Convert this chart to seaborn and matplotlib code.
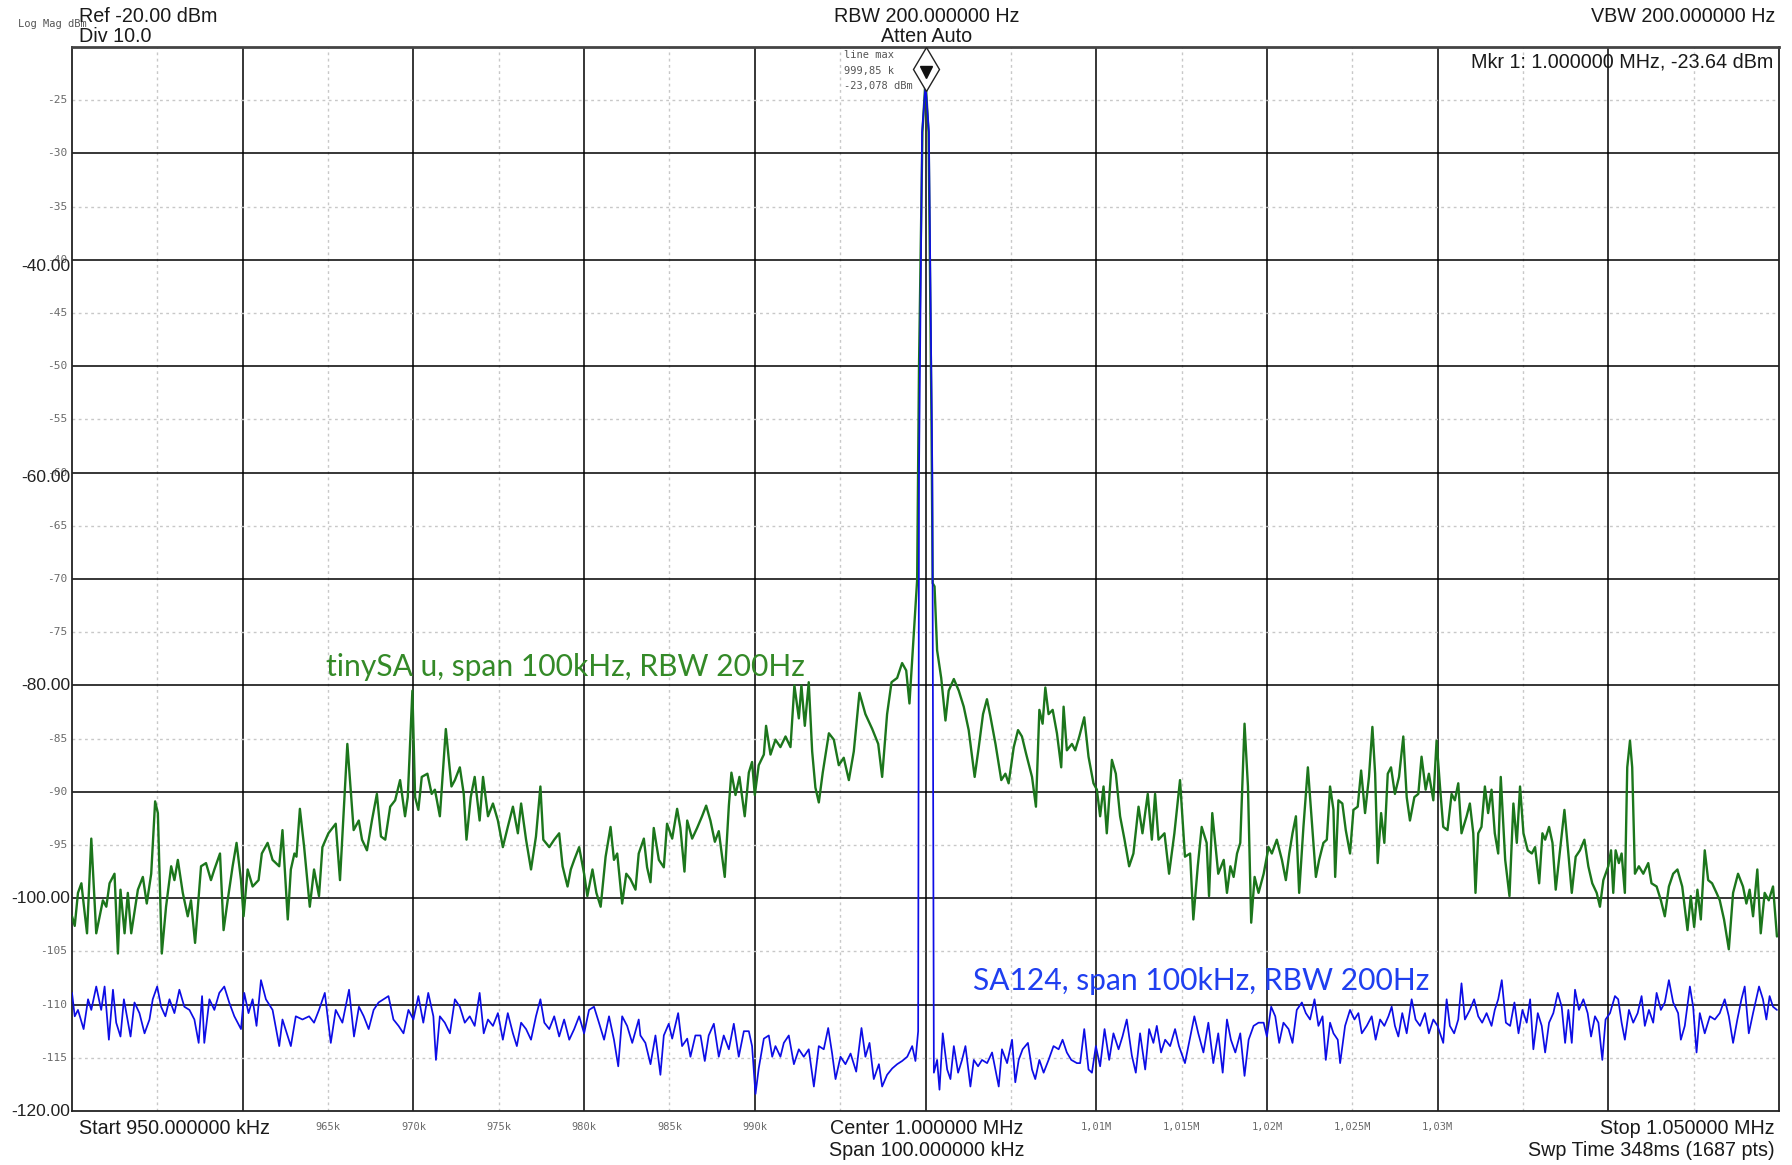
import matplotlib
matplotlib.use("Agg")
import matplotlib.pyplot as plt
from matplotlib.transforms import offset_copy, blended_transform_factory
import seaborn as sns

# ---------------- data (kHz, dBm) ----------------
green_left = [
    (950.00, -101.7), (950.16, -102.6), (950.35, -99.5), (950.55, -98.6), (950.68, -100.5), (950.88, -103.3),
    (951.13, -94.4), (951.42, -103.3), (951.81, -100.2), (952.01, -100.8), (952.20, -98.6), (952.49, -97.7),
    (952.69, -105.2), (952.84, -99.2), (953.08, -103.3), (953.27, -99.5), (953.47, -103.3), (953.86, -99.2),
    (954.15, -98.0), (954.38, -100.5), (954.64, -97.7), (954.87, -90.9), (955.03, -92.0), (955.26, -105.2),
    (955.51, -100.8), (955.81, -97.0), (956.00, -98.3), (956.20, -96.4), (956.49, -99.5), (956.78, -101.7),
    (956.97, -100.2), (957.21, -104.2), (957.56, -97.0), (957.85, -96.7), (958.14, -98.3), (958.34, -97.3),
    (958.67, -95.8), (958.88, -103.0), (959.12, -100.2), (959.41, -97.0), (959.64, -94.8), (959.90, -98.3),
    (960.05, -101.7), (960.29, -97.3), (960.58, -98.9), (960.93, -98.3), (961.12, -95.8), (961.46, -94.8),
    (961.75, -96.4), (962.14, -97.0), (962.33, -93.6), (962.64, -102.0), (962.82, -97.3), (963.03, -95.8),
    (963.15, -96.1), (963.35, -91.6), (963.60, -95.2), (963.93, -100.8), (964.18, -97.3), (964.47, -99.8),
    (964.67, -95.2), (965.02, -93.9), (965.45, -93.0), (965.70, -98.3), (966.13, -85.5),
    (966.50, -93.6), (966.80, -92.7), (966.99, -94.5), (967.28, -95.5), (967.57, -92.7), (967.86, -90.2),
    (968.10, -94.2), (968.35, -94.5), (968.64, -91.4), (968.93, -90.8), (969.22, -88.9), (969.51, -92.3),
    (969.67, -90.5), (969.94, -80.5), (970.10, -90.5), (970.29, -91.7), (970.49, -88.6), (970.82, -88.3),
    (971.07, -90.2), (971.26, -89.8), (971.55, -92.3), (971.90, -84.1), (972.23, -89.5), (972.43, -88.9),
    (972.72, -87.7), (972.95, -90.2), (973.11, -94.5), (973.36, -90.5), (973.59, -88.6), (973.88, -92.7),
    (974.08, -88.6), (974.37, -92.3), (974.66, -91.1), (974.95, -92.7), (975.24, -95.2), (975.53, -93.3),
    (975.83, -91.4), (976.12, -93.9), (976.31, -91.1), (976.60, -94.5), (976.89, -97.3), (977.18, -94.2),
    (977.44, -89.5), (977.61, -94.5), (977.96, -95.2), (978.25, -94.5), (978.54, -93.9), (978.74, -97.0),
    (979.03, -98.9), (979.22, -97.3), (979.42, -96.4), (979.71, -95.2), (980.00, -97.7), (980.19, -99.8),
    (980.49, -97.3), (980.72, -99.5), (980.97, -100.8), (981.26, -96.1), (981.55, -93.3), (981.75, -96.4),
    (981.94, -95.8), (982.23, -100.5), (982.47, -97.7),
    (982.71, -98.2), (983.01, -99.2), (983.20, -95.8), (983.50, -94.4), (983.69, -97.1), (983.89, -98.5),
    (984.08, -93.4), (984.38, -96.4), (984.67, -97.1), (984.86, -93.0), (985.16, -94.4), (985.45, -91.6),
    (985.64, -93.4), (985.88, -97.5), (986.04, -92.7), (986.33, -94.4), (986.62, -93.4), (986.91, -92.3),
    (987.15, -91.3), (987.40, -92.7), (987.66, -94.7), (987.89, -93.7), (988.24, -98.0), (988.48, -91.3),
    (988.63, -88.2), (988.87, -90.3), (989.10, -88.6), (989.41, -92.3), (989.65, -88.2), (989.84, -87.2),
    (990.00, -90.3), (990.23, -87.5), (990.53, -86.5), (990.66, -83.8), (990.92, -86.5), (991.21, -85.1),
    (991.50, -85.8), (991.80, -84.8), (992.09, -85.8), (992.32, -80.0), (992.58, -83.1), (992.73, -80.0),
    (992.93, -83.8), (993.16, -79.7), (993.36, -86.2), (993.55, -89.6), (993.75, -91.0), (993.98, -88.2),
    (994.34, -84.5), (994.63, -85.1), (994.92, -87.5), (995.21, -86.8), (995.51, -88.9), (995.80, -86.2),
    (996.13, -80.7), (996.48, -82.7), (996.88, -84.1), (997.23, -85.5), (997.46, -88.6), (997.75, -82.7),
    (998.01, -79.7), (998.34, -79.3), (998.63, -77.9), (998.87, -78.6), (999.06, -81.7), (999.22, -77.6),
    (999.38, -73.5), (999.51, -70.1),
]
green_peak = [(999.62, -50.0), (999.82, -28.0), (1000.00, -23.1), (1000.18, -28.0), (1000.35, -55.0), (1000.42, -70.4)]
green_right = [
    (1000.53, -70.7), (1000.68, -76.7), (1000.80, -78.0), (1000.92, -79.3), (1001.17, -83.3), (1001.36, -80.5),
    (1001.66, -79.4), (1001.95, -80.5), (1002.24, -82.0), (1002.53, -84.2), (1002.88, -88.6), (1003.12, -85.8),
    (1003.37, -82.7), (1003.60, -81.3), (1003.80, -82.9), (1004.10, -85.5), (1004.44, -88.9), (1004.68, -88.3),
    (1004.87, -89.2), (1005.17, -85.8), (1005.42, -84.2), (1005.65, -84.8), (1005.89, -86.4), (1006.24, -88.6),
    (1006.47, -91.4), (1006.67, -82.3), (1006.86, -83.6), (1007.02, -80.2), (1007.21, -82.7), (1007.45, -82.3),
    (1007.70, -84.5), (1007.95, -87.7), (1008.09, -82.0), (1008.28, -86.1), (1008.58, -85.5), (1008.77, -86.1),
    (1009.01, -84.8), (1009.30, -83.0), (1009.55, -86.7), (1009.84, -89.2), (1010.04, -89.8), (1010.23, -92.3),
    (1010.43, -89.5), (1010.62, -93.9), (1010.92, -87.0), (1011.15, -88.3), (1011.40, -92.3), (1011.66, -94.5),
    (1011.93, -97.0), (1012.18, -95.8), (1012.48, -91.4), (1012.71, -93.9), (1013.02, -90.2), (1013.26, -94.5),
    (1013.45, -90.2), (1013.65, -94.5), (1014.00, -93.9), (1014.27, -97.7), (1014.58, -93.9), (1014.91, -88.9),
    (1015.20, -96.1), (1015.50, -95.8), (1015.69, -102.0), (1015.95, -97.0), (1016.18, -93.3), (1016.47, -94.8),
    (1016.61, -99.8), (1016.80, -92.0), (1017.15, -97.7),
    (1017.47, -96.4), (1017.66, -99.5), (1017.86, -97.0), (1018.05, -98.0), (1018.25, -95.8), (1018.44, -94.8),
    (1018.69, -83.6), (1018.89, -89.5), (1019.08, -102.3), (1019.28, -98.0), (1019.51, -99.5), (1019.81, -97.7),
    (1020.10, -95.2), (1020.29, -95.8), (1020.58, -94.5), (1020.88, -96.4), (1021.11, -98.3), (1021.31, -95.8),
    (1021.50, -93.9), (1021.70, -92.3), (1021.89, -99.5), (1022.14, -93.3), (1022.40, -87.7), (1022.63, -92.7),
    (1022.87, -98.0), (1023.06, -96.4), (1023.31, -94.8), (1023.51, -94.5), (1023.70, -89.5), (1023.90, -91.7),
    (1024.00, -98.0), (1024.19, -90.8), (1024.42, -91.1), (1024.62, -93.6), (1024.87, -95.8), (1025.07, -91.7),
    (1025.32, -91.4), (1025.52, -88.0), (1025.75, -92.0), (1025.98, -88.6), (1026.18, -83.9), (1026.34, -88.3),
    (1026.49, -96.7), (1026.69, -92.0), (1026.88, -94.8), (1027.08, -88.3), (1027.27, -87.7), (1027.50, -90.2),
    (1027.74, -88.6), (1027.99, -84.8), (1028.19, -90.5), (1028.38, -92.7), (1028.64, -90.5), (1028.87, -90.2),
    (1029.06, -86.7), (1029.30, -89.8), (1029.49, -88.3), (1029.75, -90.8), (1029.94, -85.2), (1030.14, -89.5),
    (1030.33, -93.3), (1030.58, -93.6), (1030.82, -90.2), (1031.01, -90.8), (1031.21, -89.2), (1031.40, -93.9),
    (1031.70, -92.3), (1031.89, -91.1), (1032.09, -93.9), (1032.22, -99.5), (1032.38, -93.9), (1032.57, -93.3),
    (1032.77, -89.5), (1032.96, -92.0), (1033.16, -89.8), (1033.35, -93.9), (1033.55, -95.8),
    (1033.70, -88.6), (1033.96, -96.4), (1034.21, -99.8), (1034.44, -91.1), (1034.64, -94.8), (1034.83, -89.5),
    (1035.03, -93.9), (1035.28, -95.5), (1035.52, -95.8), (1035.71, -95.2), (1035.95, -98.6), (1036.14, -93.9),
    (1036.30, -94.5), (1036.53, -93.3), (1036.73, -94.8), (1036.92, -99.2), (1037.17, -95.5), (1037.43, -91.7),
    (1037.66, -95.8), (1037.86, -99.5), (1038.09, -96.1), (1038.34, -95.5), (1038.60, -94.5), (1038.83, -97.0),
    (1039.06, -98.6), (1039.32, -99.5), (1039.51, -100.8), (1039.71, -98.3), (1040.00, -97.0), (1040.16, -95.5),
    (1040.29, -99.5), (1040.43, -95.5), (1040.62, -96.7), (1040.78, -95.8), (1040.97, -99.5), (1041.11, -87.7),
    (1041.27, -85.2), (1041.40, -87.7), (1041.56, -97.7), (1041.79, -97.0), (1042.05, -97.7), (1042.34, -96.7),
    (1042.53, -98.6), (1042.83, -98.9), (1043.08, -100.2), (1043.31, -101.7), (1043.55, -98.9), (1043.80, -97.7),
    (1044.05, -97.3), (1044.33, -98.9), (1044.64, -103.0), (1044.83, -99.8), (1045.03, -102.7), (1045.22, -99.2),
    (1045.42, -102.0), (1045.65, -95.5), (1045.85, -98.3), (1046.08, -98.6), (1046.34, -99.5), (1046.53, -100.2),
    (1046.78, -102.0), (1047.06, -104.8), (1047.31, -99.5), (1047.60, -97.7), (1047.89, -98.9), (1048.09, -100.5),
    (1048.28, -99.2), (1048.48, -101.7), (1048.73, -97.3), (1048.93, -103.3), (1049.16, -99.5), (1049.40, -100.2),
    (1049.65, -98.9), (1049.88, -103.6),
]

blue_left = [
    (950.00, -108.9), (950.16, -111.1), (950.35, -110.5), (950.68, -112.3), (950.94, -109.5), (951.13, -110.5),
    (951.42, -108.3), (951.71, -110.5), (951.91, -108.3), (952.16, -113.3), (952.40, -108.6), (952.59, -111.7),
    (952.84, -113.0), (953.04, -109.5), (953.43, -113.0), (953.66, -109.8), (953.95, -110.8), (954.25, -112.7),
    (954.54, -111.4), (954.73, -109.5), (954.99, -108.3), (955.22, -110.2), (955.47, -111.1), (955.71, -109.5),
    (956.00, -110.8), (956.29, -108.6), (956.58, -110.2), (956.88, -110.5), (957.17, -111.4), (957.42, -113.6),
    (957.62, -109.2), (957.75, -113.6), (958.05, -109.5), (958.34, -110.5), (958.63, -108.9), (958.92, -108.3),
    (959.21, -109.8), (959.51, -111.1), (959.90, -112.3), (960.09, -108.9), (960.34, -110.8), (960.58, -109.5),
    (960.81, -112.0), (961.07, -107.7), (961.36, -109.5), (961.75, -110.5), (962.14, -113.9), (962.33, -111.4),
    (962.82, -113.9), (963.11, -111.1), (963.50, -111.4), (963.89, -111.1), (964.18, -111.7), (964.47, -110.5),
    (964.81, -108.9), (965.16, -113.6), (965.45, -110.5), (965.84, -111.7), (966.23, -108.6), (966.52, -113.0),
    (966.81, -110.2),
    (967.09, -111.1), (967.38, -112.3), (967.67, -110.5), (967.96, -109.8), (968.25, -109.5), (968.54, -109.2),
    (968.83, -111.4), (969.13, -112.0), (969.42, -112.7), (969.71, -110.5), (970.00, -111.4), (970.29, -109.2),
    (970.58, -111.7), (970.87, -108.9), (971.17, -111.1), (971.32, -115.2), (971.55, -111.1), (971.84, -111.7),
    (972.14, -112.7), (972.43, -109.5), (972.72, -110.2), (973.01, -111.7), (973.30, -111.1), (973.59, -112.0),
    (973.88, -108.9), (974.12, -112.7), (974.37, -111.4), (974.66, -112.0), (974.95, -110.8), (975.24, -113.3),
    (975.53, -110.8), (975.83, -112.7), (976.06, -113.9), (976.31, -111.7), (976.60, -112.3), (976.89, -113.3),
    (977.18, -111.1), (977.44, -109.5), (977.67, -111.7), (977.96, -112.3), (978.25, -111.1), (978.54, -113.0),
    (978.83, -111.4), (979.13, -113.3), (979.42, -112.3), (979.71, -111.1), (980.00, -112.7), (980.29, -110.5),
    (980.58, -110.2), (980.87, -111.7), (981.17, -113.3), (981.46, -111.1), (981.75, -113.3), (982.00, -115.8),
    (982.23, -111.1), (982.52, -112.0), (982.82, -113.6), (983.20, -111.4),
    (983.30, -112.9), (983.59, -113.6), (983.89, -115.6), (984.18, -112.9), (984.47, -116.6), (984.67, -112.9),
    (984.96, -111.8), (985.16, -113.2), (985.51, -110.8), (985.74, -113.9), (986.04, -113.2), (986.23, -114.9),
    (986.52, -112.9), (986.82, -112.9), (987.07, -115.3), (987.30, -112.9), (987.60, -111.8), (987.89, -114.9),
    (988.18, -112.9), (988.48, -114.2), (988.77, -111.8), (989.06, -114.9), (989.36, -112.5), (989.65, -112.5),
    (989.84, -113.9), (990.04, -118.4), (990.23, -116.0), (990.53, -113.2), (990.82, -112.9), (991.02, -114.9),
    (991.21, -113.9), (991.50, -114.9), (991.70, -113.6), (991.99, -112.9), (992.29, -115.6), (992.58, -114.2),
    (992.87, -114.9), (993.16, -114.2), (993.46, -117.7), (993.75, -113.9), (994.04, -114.2), (994.30, -112.2),
    (994.53, -114.6), (994.73, -117.0), (995.02, -114.9), (995.31, -115.6), (995.61, -114.6), (995.94, -116.3),
    (996.25, -112.2), (996.48, -114.9), (996.72, -113.6), (996.97, -117.0), (997.27, -115.6), (997.46, -117.7),
    (997.75, -116.6), (998.05, -116.0), (998.34, -115.6), (998.63, -115.3), (998.93, -114.9), (999.22, -113.9),
    (999.41, -115.3), (999.57, -112.5),
]
blue_peak = [(999.62, -60.0), (999.80, -28.0), (1000.00, -23.6), (1000.20, -28.0), (1000.40, -60.0)]
blue_right = [
    (1000.49, -116.4), (1000.68, -115.2), (1000.82, -118.0), (1001.01, -112.7), (1001.27, -116.1), (1001.46, -117.0),
    (1001.66, -113.9), (1001.91, -116.4), (1002.14, -115.2), (1002.34, -113.9), (1002.63, -117.7), (1002.83, -115.2),
    (1003.08, -115.8), (1003.31, -115.2), (1003.61, -115.5), (1003.90, -114.5), (1004.29, -117.7), (1004.48, -114.2),
    (1004.78, -115.5), (1005.07, -113.3), (1005.26, -117.3), (1005.46, -115.2), (1005.69, -114.2), (1006.00, -113.6),
    (1006.24, -116.1), (1006.43, -117.0), (1006.67, -115.2), (1006.92, -116.4), (1007.21, -115.2), (1007.50, -113.9),
    (1007.80, -114.2), (1008.03, -113.3), (1008.28, -114.5), (1008.54, -115.2), (1008.87, -115.5), (1009.06, -115.5),
    (1009.30, -112.3), (1009.55, -116.1), (1009.75, -116.4), (1009.98, -113.9), (1010.23, -115.8), (1010.49, -112.3),
    (1010.76, -115.2), (1011.01, -112.7), (1011.31, -114.2), (1011.54, -113.0), (1011.79, -111.4), (1012.09, -114.8),
    (1012.32, -116.4), (1012.57, -112.7), (1012.87, -116.1), (1013.10, -112.3), (1013.35, -113.6), (1013.55, -112.0),
    (1013.80, -114.5), (1014.04, -113.3), (1014.33, -113.9), (1014.62, -112.3), (1014.85, -113.9), (1015.20, -115.5),
    (1015.44, -113.6), (1015.75, -111.1), (1015.98, -112.7), (1016.28, -114.5), (1016.57, -111.7), (1016.86, -115.5),
    (1017.15, -112.7),
    (1017.41, -116.4), (1017.66, -111.4), (1017.89, -113.3), (1018.15, -114.5), (1018.44, -112.7), (1018.69, -116.7),
    (1018.93, -113.3), (1019.22, -112.0), (1019.51, -111.7), (1019.81, -111.7), (1020.00, -113.0), (1020.25, -110.2),
    (1020.49, -111.1), (1020.72, -113.6), (1020.97, -111.7), (1021.27, -112.3), (1021.50, -113.6), (1021.75, -110.5),
    (1022.05, -109.8), (1022.28, -110.8), (1022.53, -111.4), (1022.79, -109.5), (1023.02, -112.0), (1023.26, -111.1),
    (1023.45, -115.2), (1023.70, -111.7), (1023.90, -112.7), (1024.15, -113.3), (1024.29, -115.5), (1024.58, -112.0),
    (1024.87, -110.5), (1025.13, -111.4), (1025.36, -110.8), (1025.56, -112.7), (1025.85, -112.0), (1026.14, -111.1),
    (1026.37, -113.3), (1026.63, -111.4), (1026.88, -112.0), (1027.12, -111.1), (1027.31, -110.2), (1027.50, -112.0),
    (1027.70, -113.0), (1027.93, -110.8), (1028.19, -112.7), (1028.48, -109.5), (1028.71, -111.4), (1028.97, -112.0),
    (1029.26, -110.8), (1029.49, -112.7), (1029.75, -111.4), (1030.00, -112.0), (1030.33, -113.6), (1030.53, -109.5),
    (1030.72, -112.0), (1030.97, -112.7), (1031.21, -111.4), (1031.40, -108.0), (1031.60, -111.4), (1031.89, -110.5),
    (1032.14, -109.5), (1032.38, -111.1), (1032.61, -111.7), (1032.87, -110.8), (1033.16, -112.0), (1033.35, -110.5),
    (1033.55, -109.5),
    (1033.76, -107.7), (1034.00, -111.7), (1034.25, -112.0), (1034.50, -109.8), (1034.74, -112.7), (1034.97, -110.5),
    (1035.22, -111.7), (1035.42, -109.5), (1035.61, -114.2), (1035.87, -110.8), (1036.10, -112.0), (1036.30, -114.5),
    (1036.53, -111.7), (1036.78, -110.8), (1037.04, -108.9), (1037.27, -110.2), (1037.47, -113.6), (1037.66, -110.5),
    (1037.86, -113.6), (1038.05, -108.6), (1038.28, -110.5), (1038.54, -109.5), (1038.79, -110.8), (1038.99, -113.0),
    (1039.22, -111.1), (1039.42, -111.7), (1039.65, -115.2), (1039.84, -111.4), (1040.10, -110.8), (1040.39, -109.2),
    (1040.58, -109.5), (1040.78, -111.7), (1040.97, -113.3), (1041.21, -110.5), (1041.46, -111.7), (1041.72, -110.8),
    (1041.95, -109.2), (1042.14, -112.0), (1042.38, -110.5), (1042.63, -111.7), (1042.83, -108.9), (1043.08, -110.5),
    (1043.31, -109.8), (1043.55, -107.7), (1043.80, -109.8), (1044.09, -110.8), (1044.25, -113.3), (1044.48, -112.0),
    (1044.78, -108.3), (1044.97, -110.2), (1045.17, -114.5), (1045.36, -110.8), (1045.65, -112.7), (1045.95, -111.1),
    (1046.24, -111.4), (1046.53, -110.8), (1046.82, -109.5), (1047.06, -111.1), (1047.31, -113.6), (1047.56, -111.4),
    (1047.80, -109.5), (1047.99, -108.3), (1048.23, -112.7), (1048.48, -110.8), (1048.83, -108.3), (1049.06, -109.5),
    (1049.26, -111.4), (1049.45, -109.2), (1049.65, -110.2), (1049.88, -110.5),
]

green_freq, green_db = map(list, zip(*(green_left + green_peak + green_right)))
blue_freq, blue_db = map(list, zip(*(blue_left + blue_peak + blue_right)))

marker_freq = 1000.0
marker_db = -23.08

x_major = [960, 970, 980, 990, 1000, 1010, 1020, 1030, 1040]
x_minor = [955, 965, 975, 985, 995, 1005, 1015, 1025, 1035, 1045]
x_tick_pos = [965, 970, 975, 980, 985, 990, 1010, 1015, 1020, 1025, 1030]
x_tick_lab = ["965k", "970k", "975k", "980k", "985k", "990k", "1,01M", "1,015M", "1,02M", "1,025M", "1,03M"]
y_major = [-30, -40, -50, -60, -70, -80, -90, -100, -110]
y_minor = [-25, -35, -45, -55, -65, -75, -85, -95, -105, -115]
y_small_lab = [-25, -30, -35, -40, -45, -50, -55, -60, -65, -70, -75, -85, -90, -95, -105, -110, -115]
y_big_lab = [-40, -60, -80, -100, -120]
y_big_shift_px = [-7, -5, 0, 0, 0]   # vertical nudge of the big labels (pixels)

# ---------------- style ----------------
sns.set_style("white")
plt.rcParams["font.family"] = ["Liberation Sans", "DejaVu Sans"]

W, H = 1792, 1165
fig = plt.figure(figsize=(W / 100, H / 100), dpi=100)
fig.patch.set_facecolor("white")
ax = fig.add_axes([72 / W, 1 - 1111 / H, (1779 - 72) / W, (1111 - 47) / H])

GREEN = "#1c761c"
BLUE = "#0d0de6"

sns.lineplot(x=green_freq, y=green_db, ax=ax, color=GREEN, lw=1.7, estimator=None, sort=False, zorder=3)
sns.lineplot(x=blue_freq, y=blue_db, ax=ax, color=BLUE, lw=1.25, estimator=None, sort=False, zorder=4)

ax.set_xlim(950, 1050)
ax.set_ylim(-120, -20)
ax.set_xticks(x_major)
ax.set_xticks(x_minor, minor=True)
ax.set_yticks(y_major)
ax.set_yticks(y_minor, minor=True)
ax.grid(which="major", color="black", lw=1.1, ls="-", zorder=1)
ax.grid(which="minor", color="#c8c8c8", lw=1.0, ls=(0, (2, 2.5)), zorder=1)
ax.set_axisbelow(True)
ax.tick_params(which="both", length=0, labelbottom=False, labelleft=False)
ax.set_xlabel("")
ax.set_ylabel("")
for s in ax.spines.values():
    s.set_color("#222222")
    s.set_linewidth(1.3)
ax.spines["top"].set_linewidth(2.0)
ax.spines["top"].set_color("#444444")

# tick labels
mono = ["DejaVu Sans Mono"]
tx = blended_transform_factory(ax.transData, ax.transAxes)
for p, lab in zip(x_tick_pos, x_tick_lab):
    ax.text(p, -0.015, lab, transform=tx, ha="center", va="center", fontsize=7.5,
            family=mono, color="#6a6a6a")
ty = blended_transform_factory(ax.transAxes, ax.transData)
for v in y_small_lab:
    ax.text(-0.003, v, str(v), transform=ty, ha="right", va="center", fontsize=8,
            family=mono, color="#6a6a6a")
for v, dy in zip(y_big_lab, y_big_shift_px):
    t_big = offset_copy(ty, fig=fig, x=0, y=dy, units="dots")
    ax.text(-0.001, v, f"{v:.2f}", transform=t_big, ha="right", va="center", fontsize=12.5,
            color="#222222")

# marker
mk_off = offset_copy(ax.transData, fig=fig, x=0, y=11, units="dots")
ax.plot([marker_freq], [marker_db], marker="d", ms=22, mfc="white", mec="#222222", mew=1.0,
        transform=mk_off, zorder=6, ls="none")
mk_off2 = offset_copy(ax.transData, fig=fig, x=0, y=8, units="dots")
ax.plot([marker_freq], [marker_db], marker="v", ms=8, mfc="#111111", mec="#111111",
        transform=mk_off2, zorder=7, ls="none")

# trace annotations
ax.text(964.9, -78.3, "tinySA u, span 100kHz, RBW 200Hz", color="#348a28", fontsize=21.6,
        family=["Lato", "DejaVu Sans"], ha="left", va="center", zorder=8)
ax.text(1002.8, -107.8, "SA124, span 100kHz, RBW 200Hz", color="#1f3ff0", fontsize=21.6,
        family=["Lato", "DejaVu Sans"], ha="left", va="center", zorder=8)


def ftext(x, y, s, **kw):
    fig.text(x / W, 1 - y / H, s, **kw)


hdr = dict(fontsize=14.2, color="#1a1a1a")
ftext(18, 24, "Log Mag dBm", fontsize=7.5, family=mono, color="#555555", ha="left", va="center")
ftext(79, 17, "Ref -20.00 dBm", ha="left", va="center", **hdr)
ftext(79, 37, "Div 10.0", ha="left", va="center", **hdr)
ftext(927, 17, "RBW 200.000000 Hz", ha="center", va="center", **hdr)
ftext(927, 37, "Atten Auto", ha="center", va="center", **hdr)
ftext(1775, 17, "VBW 200.000000 Hz", ha="right", va="center", **hdr)
ftext(1773, 62, "Mkr 1: 1.000000 MHz, -23.64 dBm", ha="right", va="center", **hdr)
ftext(79, 1128, "Start 950.000000 kHz", ha="left", va="center", **hdr)
ftext(927, 1128, "Center 1.000000 MHz", ha="center", va="center", **hdr)
ftext(927, 1151, "Span 100.000000 kHz", ha="center", va="center", **hdr)
ftext(1775, 1128, "Stop 1.050000 MHz", ha="right", va="center", **hdr)
ftext(1775, 1151, "Swp Time 348ms (1687 pts)", ha="right", va="center", **hdr)
ftext(844, 50, "line max\n999,85 k\n-23,078 dBm", ha="left", va="top", fontsize=7.5,
      family=mono, color="#555555", linespacing=1.7)

fig.savefig("out.png", dpi=100, facecolor="white")
